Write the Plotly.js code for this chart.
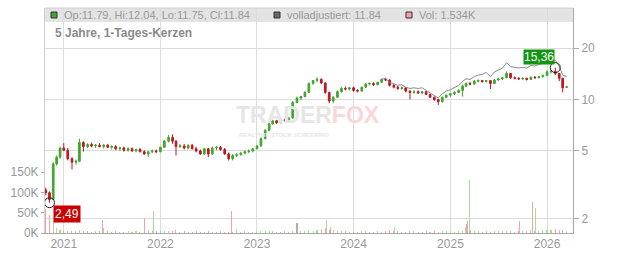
<!DOCTYPE html>
<html>
<head>
<meta charset="utf-8">
<script src="https://cdn.plot.ly/plotly-3.0.1.min.js"></script>
<style>html,body{margin:0;padding:0;background:#fff;}#chart{width:632px;height:253px;}</style>
</head>
<body>
<div id="chart"></div>
<script>
// Semi-monthly candles
const dates = [
 '2020-10-25','2020-11-08','2020-11-22','2020-12-05','2020-12-18',
 '2021-01-01','2021-01-16','2021-02-01','2021-02-16','2021-03-01','2021-03-16','2021-04-01','2021-04-16','2021-05-01','2021-05-16','2021-06-01','2021-06-16',
 '2021-07-01','2021-07-16','2021-08-01','2021-08-16','2021-09-01','2021-09-16','2021-10-01','2021-10-16','2021-11-01','2021-11-16','2021-12-01','2021-12-16',
 '2022-01-01','2022-01-16','2022-02-01','2022-02-16','2022-03-01','2022-03-16','2022-04-01','2022-04-16','2022-05-01','2022-05-16','2022-06-01','2022-06-16',
 '2022-07-01','2022-07-16','2022-08-01','2022-08-16','2022-09-01','2022-09-16','2022-10-01','2022-10-16','2022-11-01','2022-11-16','2022-12-01','2022-12-16',
 '2023-01-01','2023-01-16','2023-02-01','2023-02-16','2023-03-01','2023-03-16','2023-04-01','2023-04-16','2023-05-01','2023-05-16','2023-06-01','2023-06-16',
 '2023-07-01','2023-07-16','2023-08-01','2023-08-16','2023-09-01','2023-09-16','2023-10-01','2023-10-16','2023-11-01','2023-11-16','2023-12-01','2023-12-16',
 '2024-01-01','2024-01-16','2024-02-01','2024-02-16','2024-03-01','2024-03-16','2024-04-01','2024-04-16','2024-05-01','2024-05-16','2024-06-01','2024-06-16',
 '2024-07-01','2024-07-16','2024-08-01','2024-08-16','2024-09-01','2024-09-16','2024-10-01','2024-10-16','2024-11-01','2024-11-16','2024-12-01','2024-12-16',
 '2025-01-01','2025-01-16','2025-02-01','2025-02-16','2025-03-01','2025-03-16','2025-04-01','2025-04-16','2025-05-01','2025-05-16','2025-06-01','2025-06-16',
 '2025-07-01','2025-07-16','2025-08-01','2025-08-16','2025-09-01','2025-09-16','2025-10-01','2025-10-16','2025-11-01','2025-11-16','2025-12-01','2025-12-16',
 '2026-01-01','2026-01-16','2026-02-01','2026-02-16','2026-03-01','2026-03-16'
];
const opens = [
 2.95,2.85,2.6,4.2,4.6,
 5.2,5.05,4.5,4.3,4.35,5.6,5.3,5.45,5.35,5.4,5.3,5.4,5.25,5.3,5.15,5.2,5.05,5.15,5.0,5.1,4.95,4.8,4.95,5.0,
 4.95,5.25,5.7,6.0,5.7,5.3,5.35,5.2,5.4,5.15,5.0,4.8,5.15,4.8,5.2,5.25,5.1,4.8,4.5,4.7,4.75,4.85,4.95,5.0,
 5.15,5.35,5.9,6.6,7.2,7.5,7.3,7.6,7.55,7.8,9.6,10.2,10.4,11.0,12.4,12.9,13.1,12.5,11.0,9.8,10.3,11.1,11.6,11.5,
 11.7,11.3,11.2,11.8,12.3,12.4,12.2,12.6,13.1,13.0,12.1,11.8,11.6,11.7,11.2,11.0,11.1,10.9,11.1,10.7,10.3,10.0,9.7,10.3,
 10.6,10.8,11.0,11.3,12.0,12.4,12.3,12.8,12.9,12.7,12.9,12.4,13.0,13.2,13.4,14.2,13.4,13.3,13.2,13.3,13.1,13.5,13.4,13.6,
 13.8,14.5,14.6,14.2,13.3,11.79
];
const highs = [
 3.05,2.9,4.3,4.7,5.3,
 5.55,5.2,4.6,4.45,5.9,5.7,5.55,5.6,5.5,5.55,5.5,5.5,5.4,5.4,5.3,5.3,5.25,5.25,5.15,5.2,5.05,5.0,5.1,5.1,
 5.3,5.8,6.2,6.25,5.8,5.5,5.5,5.45,5.5,5.3,5.1,5.2,5.2,5.3,5.35,5.35,5.2,4.9,4.8,4.85,4.95,5.05,5.1,5.2,
 5.4,6.0,6.7,7.3,7.6,7.6,7.7,7.7,7.9,9.8,10.4,10.5,11.2,12.6,13.0,13.5,13.3,12.6,11.1,10.5,11.3,11.8,11.9,11.8,
 11.9,11.5,11.9,12.5,12.6,12.6,12.7,13.3,13.4,13.1,12.3,12.0,11.9,11.8,11.3,11.3,11.3,11.2,11.2,10.8,10.4,10.1,10.4,10.7,
 10.9,11.2,11.5,12.2,12.6,12.7,13.0,13.1,13.0,13.0,13.0,13.2,13.3,13.5,14.6,14.3,13.6,13.5,13.5,13.4,13.6,13.7,13.7,14.0,
 14.8,14.9,15.36,14.3,13.4,12.04
];
const lows = [
 2.75,2.49,2.6,4.1,4.5,
 5.0,4.4,3.9,4.15,4.3,4.95,5.2,5.25,5.2,5.25,5.15,5.2,5.1,5.05,5.0,4.95,4.95,4.95,4.9,4.9,4.75,4.6,4.85,4.85,
 4.9,5.2,5.6,5.5,4.7,5.2,5.1,5.1,5.1,4.9,4.75,4.75,4.6,4.75,5.05,5.0,4.75,4.4,4.4,4.6,4.7,4.8,4.85,4.9,
 5.1,5.3,5.85,6.5,7.1,7.2,7.25,7.4,7.5,7.7,9.5,9.9,10.3,10.9,12.2,12.6,12.3,10.8,9.5,9.5,10.2,11.0,11.3,11.3,
 11.1,11.0,11.1,11.7,12.1,12.0,12.1,12.5,12.8,11.9,11.6,11.4,11.4,11.0,10.0,10.8,10.8,10.8,10.6,10.2,9.8,9.3,9.6,10.2,
 10.4,10.6,10.9,10.4,11.8,12.1,12.2,12.6,12.6,12.6,11.5,12.3,12.9,13.0,13.3,13.2,13.1,13.0,13.0,12.9,13.0,13.2,13.3,13.4,
 13.7,14.2,13.9,12.8,11.0,11.75
];
const closes = [
 2.85,2.6,4.2,4.6,5.2,
 5.05,4.5,4.3,4.35,5.6,5.3,5.45,5.35,5.4,5.3,5.4,5.25,5.3,5.15,5.2,5.05,5.15,5.0,5.1,4.95,4.8,4.95,5.0,4.95,
 5.25,5.7,6.0,5.7,5.3,5.35,5.2,5.4,5.15,5.0,4.8,5.15,4.8,5.2,5.25,5.1,4.8,4.5,4.7,4.75,4.85,4.95,5.0,5.15,
 5.35,5.9,6.6,7.2,7.5,7.3,7.6,7.55,7.8,9.6,10.2,10.4,11.0,12.4,12.9,13.1,12.5,11.0,9.8,10.3,11.1,11.6,11.5,11.7,
 11.3,11.2,11.8,12.3,12.4,12.2,12.6,13.1,13.0,12.1,11.8,11.6,11.7,11.2,11.0,11.1,10.9,11.1,10.7,10.3,10.0,9.7,10.3,10.6,
 10.8,11.0,11.3,12.0,12.4,12.3,12.8,12.9,12.7,12.9,12.4,13.0,13.2,13.4,14.2,13.4,13.3,13.2,13.3,13.1,13.5,13.4,13.6,13.8,
 14.5,14.6,14.2,13.3,11.7,11.84
];
// "volladjustiert" line, from 2024-04-16 onward (earlier it sits on the candles)
const adjStartIndex = 84;
const adjusted = [
 13.1,13.3,12.6,12.3,12.1,12.2,11.8,11.6,11.7,11.6,11.7,11.3,10.9,10.6,10.2,10.8,11.2,
 11.4,11.7,12.1,12.8,13.2,13.1,13.6,13.9,14.0,14.4,13.6,14.5,14.8,15.2,16.4,15.6,15.4,15.3,15.4,15.3,15.8,15.7,16.0,16.2,
 16.5,16.8,17.0,15.6,13.9,13.6
];
// Volume per candle date (shares)
const volumes = [
 60000,45000,30000,12000,8000,
 6000,5000,4000,6000,8000,5000,4000,3000,5000,4000,12000,4000,3000,4000,3000,3000,4000,3000,5000,3000,6000,8000,5000,4000,
 4000,5000,6000,4000,8000,3000,4000,3000,3000,4000,3000,3000,4000,3000,3000,4000,3000,2000,3000,10000,3000,4000,3000,3000,
 3000,4000,5000,6000,4000,3000,3000,4000,3000,6000,4000,5000,5000,8000,6000,7000,10000,12000,8000,7000,5000,4000,4000,3000,
 3000,3000,4000,4000,3000,3000,4000,3000,5000,8000,4000,4000,3000,3000,4000,4000,3000,3000,4000,3000,4000,3000,4000,5000,
 4000,3000,5000,4000,14000,8000,5000,4000,3000,4000,3000,5000,6000,4000,5000,4000,3000,4000,5000,6000,8000,5000,6000,7000,
 8000,7000,9000,8000,7000,6000
];
// Single-day volume spikes
const spikeDates = ['2021-05-27','2021-11-03','2021-12-04','2022-09-26','2023-06-01','2023-09-20','2023-10-04','2024-06-05','2025-03-03','2025-03-07','2025-03-14','2025-09-17','2025-11-08','2025-11-19'];
const spikeVolumes = [32000,37000,54000,54000,25000,32000,15000,15000,22000,29000,130000,29000,76000,62000];
const spikeDir = ['down','down','up','down','flat','up','down','up','down','down','up','down','down','up'];

const yearTicks = ['2021-01-01','2022-01-01','2023-01-01','2024-01-01','2025-01-01','2026-01-01'];
const yearLabels = ['2021','2022','2023','2024','2025','2026'];
const priceTicks = [2,5,10,20];
const volTicks = [0,50000,100000,150000];
const volTickLabels = ['0K','50K','100K','150K'];

const GREEN = '#3fa62e', RED = '#be1622';
const VGREEN = '#a6dc9e', VRED = '#f2a3ab', VGRAY = '#b0b0b0';
const DAY = 86400000;

const volColors = closes.map((c,i)=> c >= opens[i] ? VGREEN : VRED);
const spikeColors = spikeDir.map(d => d==='up' ? VGREEN : (d==='down' ? VRED : VGRAY));

const lowIdx = lows.indexOf(Math.min(...lows));
const highIdx = highs.indexOf(Math.max(...highs));
const last = closes.length - 1;

const traces = [
  {type:'bar', x:dates, y:volumes, xaxis:'x', yaxis:'y', marker:{color:volColors, line:{width:0}}, width:4*DAY, hoverinfo:'skip'},
  {type:'bar', x:spikeDates, y:spikeVolumes, xaxis:'x', yaxis:'y', marker:{color:spikeColors, line:{width:0}}, width:4*DAY, hoverinfo:'skip'},
  {type:'candlestick', x:dates, open:opens, high:highs, low:lows, close:closes, xaxis:'x', yaxis:'y2',
   increasing:{line:{color:GREEN,width:1}, fillcolor:GREEN},
   decreasing:{line:{color:RED,width:1}, fillcolor:RED},
   whiskerwidth:0, hoverinfo:'skip'},
  {type:'scatter', mode:'lines', x:dates.slice(adjStartIndex), y:adjusted, xaxis:'x', yaxis:'y2',
   line:{color:'#8a8a8a', width:1}, hoverinfo:'skip'},
  {type:'scatter', mode:'markers', x:[dates[lowIdx], dates[highIdx]], y:[lows[lowIdx], highs[highIdx]], xaxis:'x', yaxis:'y2',
   marker:{symbol:'circle-open', size:10, color:'#222', line:{width:1, color:'#222'}}, hoverinfo:'skip'}
];

const fmt = v => v.toFixed(2).replace('.', ',');
const hdrY = 0.969;
const layout = {
  width:632, height:253,
  margin:{l:45, r:59, t:8, b:20, pad:0},
  paper_bgcolor:'#ffffff', plot_bgcolor:'#ffffff',
  showlegend:false, hovermode:false, bargap:0,
  font:{family:'"Liberation Sans", Arial, sans-serif', size:12, color:'#999'},
  xaxis:{type:'date', range:['2020-10-22','2026-04-09'], rangeslider:{visible:false},
    tickvals:yearTicks, ticktext:yearLabels, showgrid:true, gridcolor:'#dcdcdc', gridwidth:1,
    ticks:'', showline:true, linecolor:'#a8a8a8', linewidth:1, zeroline:false,
    tickfont:{size:12, color:'#999'}, fixedrange:true},
  yaxis:{range:[0,554000], side:'left', tickvals:volTicks, ticktext:volTickLabels,
    showgrid:false, zeroline:false, ticks:'outside', ticklen:3, tickcolor:'#aaa',
    showline:true, linecolor:'#cfcfcf', linewidth:1, tickfont:{size:12, color:'#999'}, fixedrange:true},
  yaxis2:{type:'log', overlaying:'y', side:'right', range:[0.219,1.535], tickvals:priceTicks, ticktext:priceTicks.map(String),
    showgrid:true, gridcolor:'#dcdcdc', gridwidth:1, zeroline:false, ticks:'outside', ticklen:5, tickcolor:'#aaa',
    showline:true, linecolor:'#a8a8a8', linewidth:1, tickfont:{size:12, color:'#999'}, fixedrange:true},
  shapes:[
    {type:'rect', xref:'paper', yref:'paper', x0:0, x1:1, y0:0.9378, y1:1, fillcolor:'#e3e3e3', line:{width:0}, layer:'below'},
    {type:'line', xref:'paper', yref:'paper', x0:0, x1:1, y0:1, y1:1, line:{color:'#cfcfcf', width:1}},
    {type:'rect', xref:'paper', yref:'paper', x0:0.0114, x1:0.0227, y0:0.9556, y1:0.9822, fillcolor:GREEN, line:{color:'#333', width:1}},
    {type:'rect', xref:'paper', yref:'paper', x0:0.4337, x1:0.4451, y0:0.9556, y1:0.9822, fillcolor:'#666', line:{color:'#333', width:1}},
    {type:'rect', xref:'paper', yref:'paper', x0:0.6837, x1:0.6951, y0:0.9556, y1:0.9822, fillcolor:VRED, line:{color:'#333', width:1}}
  ],
  annotations:[
    {xref:'paper', yref:'paper', x:0.498, y:0.524, xanchor:'center', yanchor:'middle', showarrow:false,
     text:'<b>TRADER<span style="color:#f9d6d9">FOX</span></b>', font:{size:23, color:'#e6e6e6'}},
    {xref:'paper', yref:'paper', x:0.4527, y:0.437, xanchor:'center', yanchor:'middle', showarrow:false,
     text:'<b>REALTIME STOCK SCREENING</b>', font:{size:6, color:'#e6e6e6'}},
    {xref:'paper', yref:'paper', x:0.0322, y:hdrY, xanchor:'left', yanchor:'middle', showarrow:false,
     text:'Op:'+opens[last].toFixed(2)+', Hi:'+highs[last].toFixed(2)+', Lo:'+lows[last].toFixed(2)+', Cl:'+closes[last].toFixed(2),
     font:{size:11, color:'#999'}},
    {xref:'paper', yref:'paper', x:0.4545, y:hdrY, xanchor:'left', yanchor:'middle', showarrow:false,
     text:'volladjustiert: '+closes[last].toFixed(2), font:{size:11, color:'#999'}},
    {xref:'paper', yref:'paper', x:0.7045, y:hdrY, xanchor:'left', yanchor:'middle', showarrow:false,
     text:'Vol: 1.534K', font:{size:11, color:'#999'}},
    {xref:'paper', yref:'paper', x:0.0152, y:0.8889, xanchor:'left', yanchor:'middle', showarrow:false,
     text:'<b>5 Jahre, 1-Tages-Kerzen</b>', font:{size:12, color:'#8a8a8a'}},
    {xref:'x', yref:'y2', x:dates[highIdx], y:Math.log10(highs[highIdx]), xanchor:'right', yanchor:'bottom', yshift:3, showarrow:false,
     text:fmt(highs[highIdx]), font:{size:12, color:'#fff'}, bgcolor:'#119611', borderpad:0},
    {xref:'x', yref:'y2', x:dates[lowIdx], y:Math.log10(lows[lowIdx]), xanchor:'left', yanchor:'top', xshift:3, yshift:-2, showarrow:false,
     text:fmt(lows[lowIdx]), font:{size:12, color:'#fff'}, bgcolor:'#cc0000', borderpad:1}
  ]
};

Plotly.newPlot('chart', traces, layout, {staticPlot:true, displayModeBar:false});
</script>
</body>
</html>
